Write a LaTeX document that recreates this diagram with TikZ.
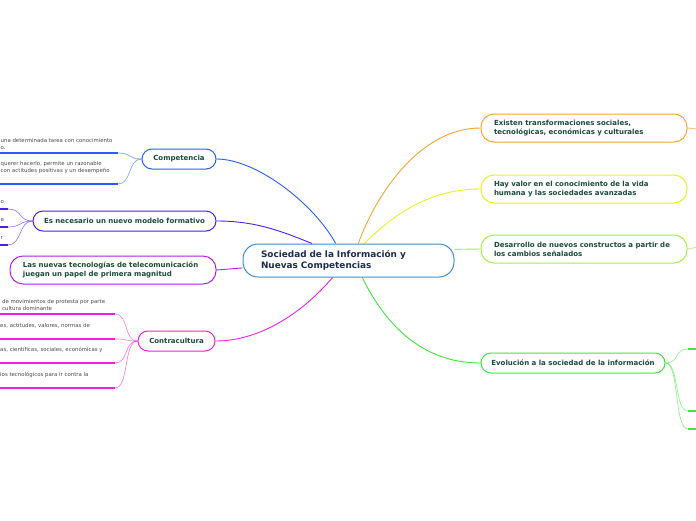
\documentclass[tikz,border=0pt]{standalone}
\usepackage{fontspec}
\setmainfont{DejaVu Sans}
\usepackage{tikz}
\usetikzlibrary{positioning,backgrounds}
\definecolor{rootblue}{HTML}{3B8ED1}
\definecolor{rootfg}{HTML}{1C2C50}
\definecolor{nodefg}{HTML}{194A3A}
\definecolor{leaffg}{HTML}{4A4A4A}
\definecolor{compblue}{HTML}{2A5FF0}
\definecolor{modindigo}{HTML}{4B1FF0}
\definecolor{tecpurple}{HTML}{B01FE8}
\definecolor{conmagenta}{HTML}{EE22DD}
\definecolor{exorange}{HTML}{F8A436}
\definecolor{valyellow}{HTML}{EEEE22}
\definecolor{deslime}{HTML}{A4EF4E}
\definecolor{evogreen}{HTML}{3EE83E}
\tikzset{
    rootbox/.style={
        draw=rootblue, fill=white, line width=1pt, rounded corners=15pt,
        minimum width=211pt, minimum height=33pt, text width=175pt, inner xsep=18pt,
        font=\fontsize{8.9}{11}\selectfont\bfseries, text=rootfg, align=left
    },
    branchbox/.style={
        fill=white, line width=1pt, rounded corners=10pt, minimum height=20pt,
        font=\fontsize{7}{9}\selectfont\bfseries, text=nodefg, align=center
    },
    branchwide/.style={
        branchbox, rounded corners=13pt, minimum height=28pt,
        text width=180pt, inner xsep=13pt, align=left
    },
    link/.style={line width=0.9pt},
    stem/.style={line width=0.7pt, opacity=0.55},
    underline/.style={line width=1.8pt},
    leaftext/.style={
        anchor=west, inner sep=0pt, font=\fontsize{5.4}{7}\selectfont,
        text=leaffg, align=left
    },
}
\begin{document}
\begin{tikzpicture}[x=1pt, y=-1pt]
\useasboundingbox (0,0) rectangle (696,520);
% central topic
\node[rootbox] (root) at (348.5,260.5) {Sociedad de la Información y\\Nuevas Competencias};
% left branches
\node[branchbox, draw=compblue, minimum width=74pt] (comp) at (179,159) {Competencia};
\node[branchbox, draw=modindigo, minimum width=183pt] (modelo) at (124.5,221) {Es necesario un nuevo modelo formativo};
\node[branchwide, draw=tecpurple] (tecno) at (113,270) {Las nuevas tecnologías de telecomunicación\\juegan un papel de primera magnitud};
\node[branchbox, draw=conmagenta, minimum width=77pt] (contra) at (176.5,341) {Contracultura};
% right branches
\node[branchwide, draw=exorange] (existen) at (584,128) {Existen transformaciones sociales,\\tecnológicas, económicas y culturales};
\node[branchwide, draw=valyellow] (valor) at (584,189) {Hay valor en el conocimiento de la vida\\humana y las sociedades avanzadas};
\node[branchwide, draw=deslime] (desarrollo) at (584,249) {Desarrollo de nuevos constructos a partir de\\los cambios señalados};
\node[branchbox, draw=evogreen, minimum width=184pt] (evolucion) at (573,363) {Evolución a la sociedad de la información};
% leaves (cut at the page edge)
\node[leaftext] (cx1) at (0.5,143.5) {una determinada tarea con conocimiento\\o.};
\node[leaftext] (cx2) at (0.5,168) {querer hacerlo, permite un razonable\\con actitudes positivas y un desempeño};
\node[leaftext] (mx1) at (0.5,202) {o};
\node[leaftext] (mx2) at (0.5,220) {e};
\node[leaftext] (mx3) at (0.5,238) {r};
\node[leaftext] (kx1) at (2,304.5) {de movimientos de protesta por parte\\cultura dominante};
\node[leaftext] (kx2) at (0,326) {es, actitudes, valores, normas de};
\node[leaftext] (kx3) at (0,350) {as, científicas, sociales, económicas y};
\node[leaftext] (kx4) at (0,375) {ios tecnológicos para ir contra la};
\coordinate (cl1) at (118,153);
\coordinate (cl2) at (118,184);
\coordinate (ml1) at (8,209);
\coordinate (ml2) at (8,227);
\coordinate (ml3) at (8,245);
\coordinate (kl1) at (115,314);
\coordinate (kl2) at (115,339);
\coordinate (kl3) at (115,363);
\coordinate (kl4) at (115,388);
\coordinate (el1) at (688,349);
\coordinate (el2) at (688,411);
\coordinate (el3) at (688,429);
\coordinate (exout) at (698,129);
\coordinate (deout) at (698,247);
\begin{scope}[on background layer]
\fill[white] (0,0) rectangle (696,520);
% connectors to the central topic
\draw[link, compblue] (comp.east) .. controls +(40,0) and +(-22,-40) .. (root.127);
\draw[link, modindigo] (modelo.east) .. controls +(40,0) and +(-30,-12) .. (root.155);
\draw[link, tecpurple] (tecno.east) -- (root.184.6);
\draw[link, conmagenta] (contra.east) .. controls +(45,0) and +(-30,35) .. (root.227);
\draw[link, exorange] (root.60) .. controls +(18,-50) and +(-60,0) .. (existen.west);
\draw[link, valyellow] (root.47) .. controls +(30,-30) and +(-50,0) .. (valor.west);
\draw[link, deslime] (root.6) -- (desarrollo.west);
\draw[link, evogreen] (root.309) .. controls +(22,45) and +(-60,0) .. (evolucion.west);
% stubs leaving the page
\draw[link, exorange, opacity=0.7] (existen.east) -- (exout);
\draw[link, deslime, opacity=0.7] (desarrollo.east) -- (deout);
% stems to the leaves
\foreach \l in {cl1,cl2}
    \draw[stem, compblue] (comp.west) .. controls +(-14,0) and +(14,0) .. (\l);
\foreach \l in {ml1,ml2,ml3}
    \draw[stem, modindigo] (modelo.west) .. controls +(-14,0) and +(14,0) .. (\l);
\foreach \l in {kl1,kl2,kl3,kl4}
    \draw[stem, conmagenta] (contra.west) .. controls +(-14,0) and +(14,0) .. (\l);
\foreach \l in {el1,el2,el3}
    \draw[stem, evogreen] (evolucion.east) .. controls +(14,0) and +(-14,0) .. (\l);
\end{scope}
% underlines of the leaves
\foreach \l in {cl1,cl2}
    \draw[underline, compblue] (\l) -- ++(-122,0);
\foreach \l in {ml1,ml2,ml3}
    \draw[underline, modindigo] (\l) -- ++(-12,0);
\foreach \l in {kl1,kl2,kl3,kl4}
    \draw[underline, conmagenta] (\l) -- ++(-119,0);
\foreach \l in {el1,el2,el3}
    \draw[underline, evogreen] (\l) -- ++(12,0);
\end{tikzpicture}
\end{document}
